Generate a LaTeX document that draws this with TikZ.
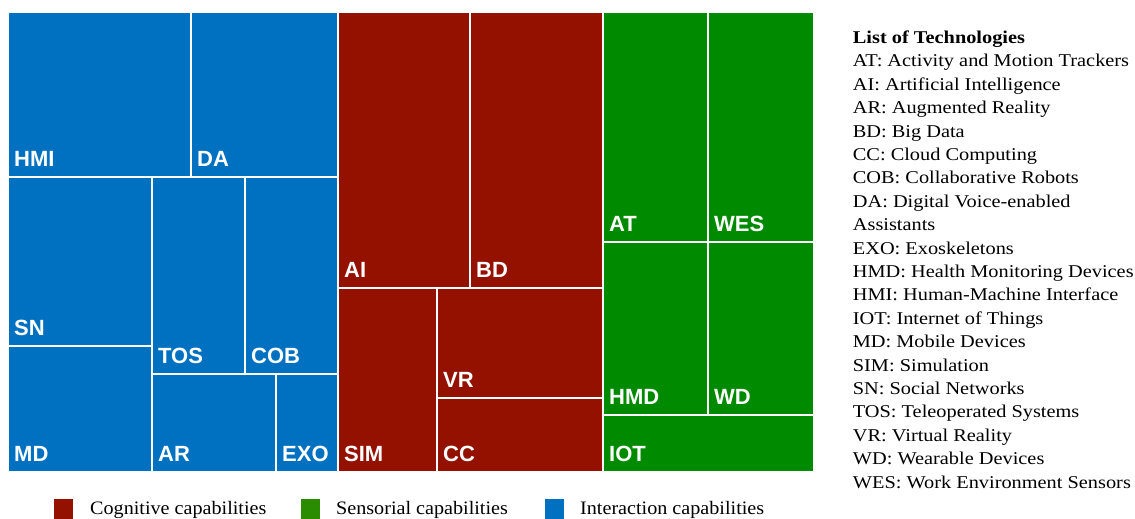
\documentclass[tikz,border=0pt]{standalone}
\usepackage{fontspec}
\setmainfont{Liberation Serif}[FakeStretch=1.06]
\newfontfamily\listfont{Liberation Serif}[FakeStretch=1.13]
\newfontfamily\cellfont{Liberation Sans}
\usepackage{xcolor}
\usepackage{tikz}

\definecolor{cogred}{HTML}{941100}
\definecolor{sensgreen}{HTML}{008A00}
\definecolor{legendgreen}{HTML}{2A8C00}
\definecolor{interblue}{HTML}{0070C0}

\tikzset{
  cell/.style={draw=white, line width=2pt},
  celllabel/.style={anchor=base west, inner sep=0pt, text=white, font=\cellfont\bfseries\fontsize{22}{26}\selectfont},
  listitem/.style={anchor=base west, inner sep=0pt, font=\listfont\fontsize{18}{22}\selectfont},
  keytext/.style={anchor=base west, inner sep=0pt, font=\fontsize{19}{23}\selectfont}
}

\begin{document}
\begin{tikzpicture}[x=1pt,y=-1pt]
\useasboundingbox (0,0) rectangle (1135,519);

%treemap cells: name/colour/left/top/right/bottom
\foreach \name/\col/\xa/\ya/\xb/\yb in {
  HMI/interblue/8/12/191/177, DA/interblue/191/12/338/177,
  SN/interblue/8/177/152/346, TOS/interblue/152/177/245/374,
  COB/interblue/245/177/338/374, MD/interblue/8/346/152/472,
  AR/interblue/152/374/276/472, EXO/interblue/276/374/338/472,
  AI/cogred/338/12/470/288, BD/cogred/470/12/603/288,
  SIM/cogred/338/288/437/472, VR/cogred/437/288/603/398,
  CC/cogred/437/398/603/472,
  AT/sensgreen/603/12/708/242, WES/sensgreen/708/12/814/242,
  HMD/sensgreen/603/242/708/415, WD/sensgreen/708/242/814/415,
  IOT/sensgreen/603/415/814/472}
{
  \draw[cell, fill=\col] (\xa,\ya) rectangle (\xb,\yb);
  \node[celllabel] (\name) at (\xa+6,\yb-10.5) {\name};
}

%list of technologies
\node[listitem] (listhead) at (852.7,43.5) {\textbf{List of Technologies}};
\foreach \txt [count=\i] in {
  AT: Activity and Motion Trackers, AI: Artificial Intelligence,
  AR: Augmented Reality, BD: Big Data, CC: Cloud Computing,
  COB: Collaborative Robots, DA: Digital Voice-enabled, Assistants,
  EXO: Exoskeletons, HMD: Health Monitoring Devices,
  HMI: Human-Machine Interface, IOT: Internet of Things,
  MD: Mobile Devices, SIM: Simulation, SN: Social Networks,
  TOS: Teleoperated Systems, VR: Virtual Reality,
  WD: Wearable Devices, WES: Work Environment Sensors}
  \node[listitem] (item\i) at (852.7,43.5+\i*23.4) {\txt};

%capability key
\fill[cogred] (54,499) rectangle (73,519);
\node[keytext] (cogkey) at (90,514) {Cognitive capabilities};
\fill[legendgreen] (301,499) rectangle (320,519);
\node[keytext] (senskey) at (336,514) {Sensorial capabilities};
\fill[interblue] (545,499) rectangle (564,519);
\node[keytext] (interkey) at (580,514) {Interaction capabilities};

\end{tikzpicture}
\end{document}
